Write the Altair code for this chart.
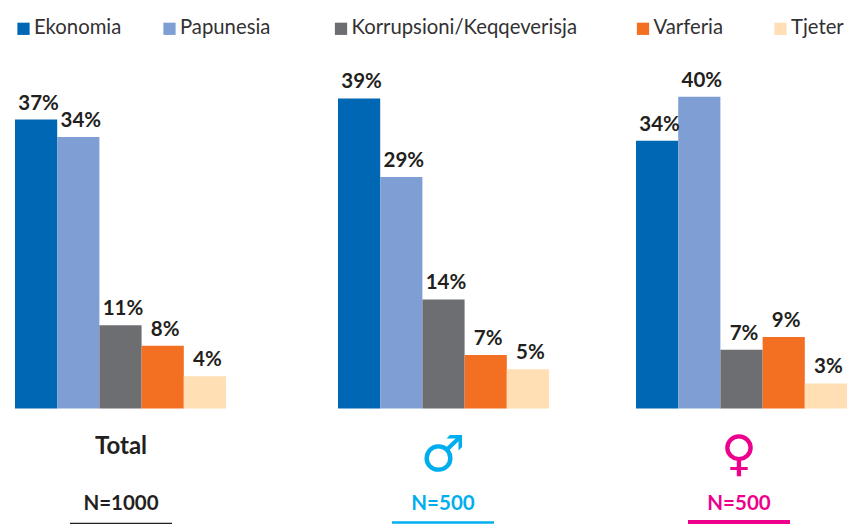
import altair as alt
import pandas as pd

categories = ["Ekonomia", "Papunesia", "Korrupsioni/Keqqeverisja", "Varferia", "Tjeter"]
colors = ["#0067B5", "#7F9FD4", "#6D6E71", "#F36F21", "#FFDFB3"]
total_values = [36.8, 34.6, 10.6, 8.0, 4.1]
male_values = [39.5, 29.5, 13.9, 6.8, 5.0]
female_values = [34.1, 39.7, 7.5, 9.1, 3.2]
total_labels = ["37%", "34%", "11%", "8%", "4%"]
male_labels = ["39%", "29%", "14%", "7%", "5%"]
female_labels = ["34%", "40%", "7%", "9%", "3%"]

FONT = "Lato"
DARK = "#231F20"
BASE = 400.5
PX_PER_PCT = 7.85


def panel(values, labels, width, x_range, legend_items, caption, cap_font, cap_size, cap_w,
          cap_y, n_text, n_color, center, rule_half, rule_y, rule_w):
    df = pd.DataFrame({"cat": categories, "value": values, "label": labels})
    x = alt.X("cat:N", sort=categories, axis=None,
              scale=alt.Scale(range=x_range, paddingInner=0, paddingOuter=0))
    y = alt.Y("value:Q", axis=None,
              scale=alt.Scale(domain=[0, 40], range=[BASE, BASE - 40 * PX_PER_PCT], nice=False))
    color = alt.Color("cat:N", legend=None,
                      scale=alt.Scale(domain=categories, range=colors))
    bars = alt.Chart(df).mark_bar(size=(x_range[1] - x_range[0]) / 5).encode(x=x, y=y, color=color)
    text = alt.Chart(df).mark_text(font=FONT, fontWeight="bold", fontSize=20.5, color=DARK,
                                   baseline="alphabetic", dx=2.5, dy=-10).encode(x=x, y=y, text="label:N")

    layers = [bars, text]
    for cat, lx in legend_items:
        c = colors[categories.index(cat)]
        d = pd.DataFrame({"name": [cat]})
        layers.append(alt.Chart(d).mark_square(size=150, color=c, opacity=1).encode(
            x=alt.value(lx + 6.5), y=alt.value(20.8)))
        layers.append(alt.Chart(d).mark_text(font=FONT, fontSize=20.3, color="#333132", align="left",
                                             baseline="middle").encode(
            x=alt.value(lx + 17), y=alt.value(20), text="name:N"))

    cap = pd.DataFrame({"t": [caption]})
    layers.append(alt.Chart(cap).mark_text(font=cap_font, fontWeight=cap_w, fontSize=cap_size,
                                           color=n_color, baseline="middle").encode(
        x=alt.value(center), y=alt.value(cap_y), text="t:N"))
    nd = pd.DataFrame({"t": [n_text]})
    layers.append(alt.Chart(nd).mark_text(font=FONT, fontWeight="bold", fontSize=20.5, color=n_color,
                                          baseline="middle").encode(
        x=alt.value(center), y=alt.value(496), text="t:N"))
    layers.append(alt.Chart(nd).mark_rule(color=n_color, strokeWidth=rule_w).encode(
        x=alt.value(center - rule_half), x2=alt.value(center + rule_half), y=alt.value(rule_y)))

    return alt.layer(*layers).resolve_scale(x="shared", y="shared").properties(width=width, height=515)


p1 = panel(total_values, total_labels, 299, [0, 211],
           [("Ekonomia", 2), ("Papunesia", 148)],
           "Total", FONT, 24, "bold", 439, "N=1000", DARK, 106, 51, 515.5, 1.5)
p2 = panel(male_values, male_labels, 322, [24, 235],
           [("Korrupsioni/Keqqeverisja", 20.5)],
           "♂", "DejaVu Sans", 50, "normal", 448, "N=500", "#00AEEF", 129, 51, 514.5, 2.5)
p3 = panel(female_values, female_labels, 213, [0, 211],
           [("Varferia", 0.5), ("Tjeter", 138)],
           "♀", "DejaVu Sans", 49, "normal", 447, "N=500", "#EC008C", 103, 51, 514, 4)

chart = alt.hconcat(p1, p2, p3, spacing=0, padding={"left": 7, "top": 0, "right": 0, "bottom": 0}).configure_view(
    stroke=None).properties(background="white")

chart.save("out.html", embed_options={"renderer": "svg", "actions": False})
